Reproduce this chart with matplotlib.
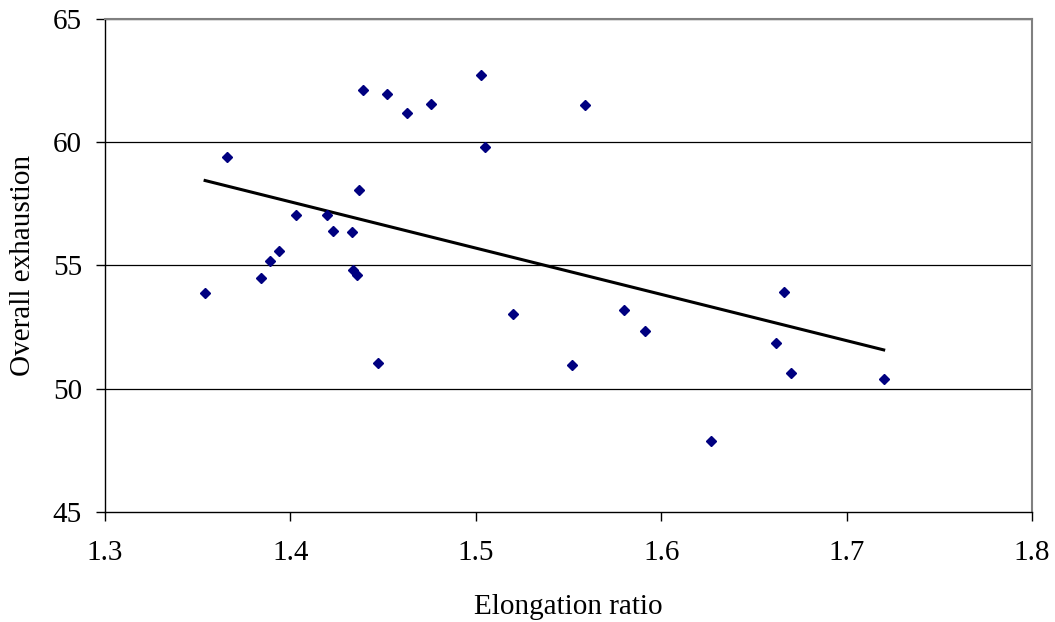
import numpy as np
import matplotlib
matplotlib.use("Agg")
from matplotlib import pyplot as plt

plt.rcParams['font.family'] = ['Liberation Serif', 'DejaVu Serif']

# elongation ratio vs overall exhaustion
elong = [1.354, 1.366, 1.384, 1.389, 1.394, 1.403, 1.420, 1.423, 1.433, 1.437,
         1.434, 1.436, 1.447, 1.439, 1.452, 1.463, 1.476, 1.503, 1.505, 1.559,
         1.520, 1.552, 1.580, 1.591, 1.627, 1.662, 1.666, 1.670, 1.720]
exhaust = [53.89, 59.42, 54.49, 55.18, 55.59, 57.04, 57.04, 56.39, 56.35, 58.05,
           54.82, 54.62, 51.06, 62.13, 61.97, 61.20, 61.57, 62.74, 59.79, 61.53,
           53.04, 50.98, 53.20, 52.35, 47.87, 51.87, 53.93, 50.62, 50.41]

xticks = [1.3, 1.4, 1.5, 1.6, 1.7, 1.8]
yticks = [45, 50, 55, 60, 65]

x = np.array(elong)
y = np.array(exhaust)
# linear trendline, like Excel
k, b = np.polyfit(x, y, 1)
xt = np.array([x.min(), x.max()])

fig = plt.figure(figsize=(10.55, 6.22), dpi=100)
ax = fig.add_axes([105/1055, 1 - 512/622, (1032 - 105)/1055, (512 - 19)/622])

for v in yticks[1:]:
    ax.axhline(v, color='black', lw=0.9, zorder=1)

ax.plot(x, y, 'D', color='#000080', markersize=5.2, zorder=3)
ax.plot(xt, k * xt + b, color='black', lw=2.2, zorder=2)

ax.set_xlim(1.3, 1.8)
ax.set_ylim(45, 65)
ax.set_xticks(xticks)
ax.set_yticks(yticks)
ax.set_xticklabels([f'{t:.1f}' for t in xticks])
ax.tick_params(axis='both', direction='out', length=6.5, width=1, labelsize=21, color='black')
ax.tick_params(axis='x', pad=14)
ax.tick_params(axis='y', pad=10)

for s in ['left', 'bottom']:
    ax.spines[s].set_color('black')
    ax.spines[s].set_linewidth(1)
for s in ['top', 'right']:
    ax.spines[s].set_color('#808080')
    ax.spines[s].set_linewidth(1.5)

ax.set_xlabel('Elongation ratio', fontsize=21, labelpad=20)
ax.set_ylabel('Overall exhaustion', fontsize=21, labelpad=12)

fig.savefig('out.png', dpi=100)
